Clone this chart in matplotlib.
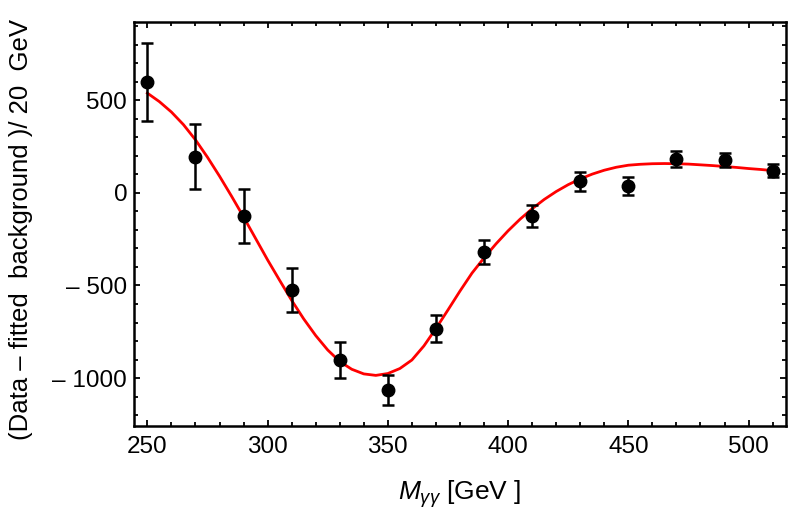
import numpy as np
import matplotlib
matplotlib.use('Agg')
import matplotlib.pyplot as plt
from matplotlib.ticker import MultipleLocator, FuncFormatter

plt.rcParams['font.family'] = ['Liberation Sans', 'DejaVu Sans']
plt.rcParams['mathtext.fontset'] = 'custom'
plt.rcParams['mathtext.it'] = 'Liberation Sans:italic'
plt.rcParams['mathtext.rm'] = 'Liberation Sans'

# data points (Data - fitted background) per 20 GeV bin
mass = [250, 270, 290, 310, 330, 350, 370, 390, 410, 430, 450, 470, 490, 510]
counts = [600, 194, -124, -523, -901, -1063, -734, -318, -124, 62, 38, 183, 177, 120]
errors = [210, 175, 145, 120, 97, 81, 73, 65, 60, 50, 48, 45, 40, 35]

# fitted curve (every 5 GeV)
fit_m = list(range(250, 515, 5))
fit_v = [538, 492, 436, 368, 286, 192, 90, -18, -130, -246,
         -362, -472, -580, -680, -770, -848, -910, -952, -977, -985,
         -975, -948, -902, -826, -732, -632, -530, -433, -351, -275,
         -205, -142, -86, -36, 7, 44, 75, 101, 122, 138,
         149, 154, 157, 158, 157, 155, 151, 147, 142, 137,
         131, 126, 120]

fig = plt.figure(figsize=(7.89, 5.18), dpi=100)
ax = fig.add_axes([0.170, 0.178, 0.826, 0.780])

ax.plot(fit_m, fit_v, color='#ff0000', lw=2.0, zorder=2)
ax.errorbar(mass, counts, yerr=errors, fmt='o', color='black', ms=9,
            elinewidth=1.8, capsize=4, capthick=1.8, zorder=3)

ax.set_xlim(244.5, 515.5)
ax.set_ylim(-1257, 923)

ax.xaxis.set_major_locator(MultipleLocator(50))
ax.xaxis.set_minor_locator(MultipleLocator(10))
ax.yaxis.set_major_locator(MultipleLocator(500))
ax.yaxis.set_minor_locator(MultipleLocator(100))

def yfmt(v, pos):
    v = int(round(v))
    return '\u2013 %d' % -v if v < 0 else '%d' % v

ax.yaxis.set_major_formatter(FuncFormatter(yfmt))

ax.tick_params(which='both', direction='in', top=True, right=True, width=1.3,
               labelsize=17.5)
ax.tick_params(which='major', length=4.5)
ax.tick_params(which='minor', length=3)
ax.tick_params(axis='x', pad=7)
ax.tick_params(axis='y', pad=5)
for s in ax.spines.values():
    s.set_linewidth(1.8)

ax.set_xlabel(r'$M_{\gamma\gamma}$ [GeV ]', fontsize=19, labelpad=15)
ax.set_ylabel('(Data \u2013 fitted  background )/ 20  GeV', fontsize=18.5, labelpad=8)
ax.yaxis.set_label_coords(-0.155, 0.485)

fig.savefig('out.png', dpi=100)
